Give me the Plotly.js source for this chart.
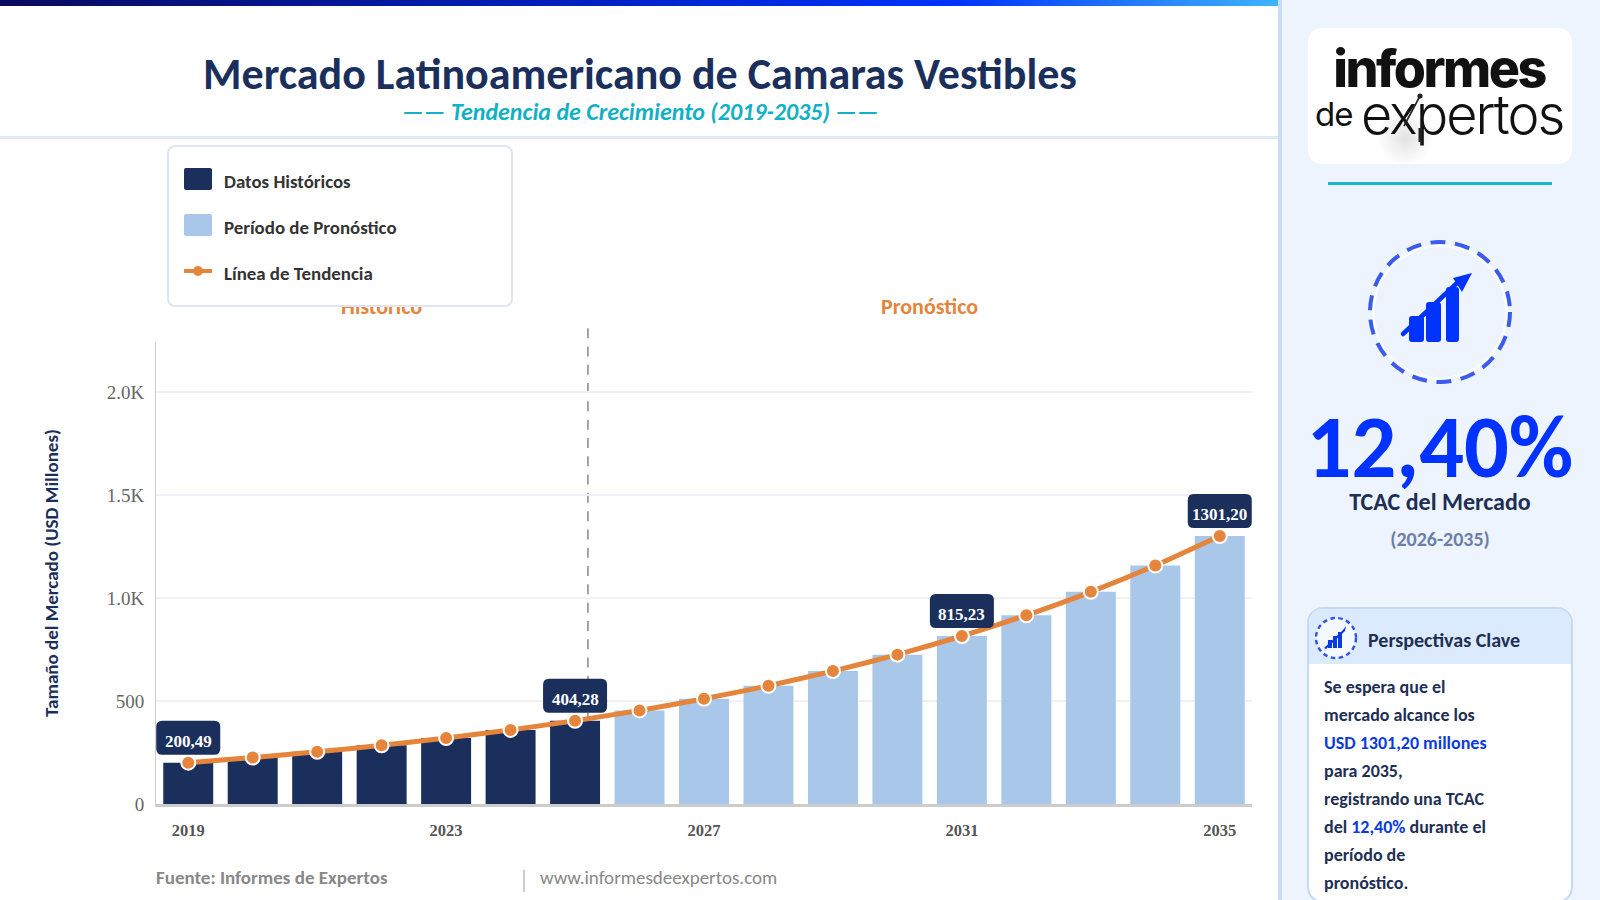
<!DOCTYPE html>
<html><head><meta charset="utf-8">
<script src="https://cdn.plot.ly/plotly-3.0.1.min.js"></script>
<style>
html,body{margin:0;padding:0;width:1600px;height:900px;overflow:hidden;background:#fff;font-family:Carlito,Calibri,Lato,sans-serif}
#topbar{position:absolute;left:0;top:0;width:1278px;height:6px;background:linear-gradient(90deg,#0a0a5e 0%,#0020c0 45%,#0033ff 75%,#3fb4ff 100%)}
#hdiv{position:absolute;left:0;top:136px;width:1278px;height:3px;background:#e3eaf3}
#chart{position:absolute;left:0;top:0;width:1278px;height:900px}
#legendbox{position:absolute;left:167px;top:145px;width:346px;height:162px;box-sizing:border-box;background:#fff;border:2px solid #dfe5f1;border-radius:8px;font-size:18.9px;font-weight:600;color:#333;z-index:3}
.li{position:absolute;left:15px;height:24px;line-height:24px;display:flex;align-items:center}
.sw{display:inline-block;width:28px;height:22px;border-radius:2px;margin-right:12px;position:relative;top:-2px}
.ln{display:inline-block;width:28px;height:4px;background:#e5843b;margin-right:12px;position:relative;top:-2px}
.ln:after{content:"";position:absolute;left:9px;top:-3px;width:10px;height:10px;border-radius:50%;background:#e5843b}
.tx{position:relative;top:1px}
#foot1{position:absolute;left:156px;top:866px;font-size:19px;font-weight:700;color:#888}
#footd{position:absolute;left:523px;top:870px;width:2px;height:22px;background:#ccc}
#foot2{position:absolute;left:540px;top:866px;font-size:19px;color:#888}
#side{position:absolute;left:1278px;top:0;width:322px;height:900px;box-sizing:border-box;background:#eef4fe;border-left:4px solid #c8dcf5;overflow:hidden}
#logo{position:absolute;left:26px;top:28px;width:264px;height:136px;background:#fff;border-radius:14px;color:#111;overflow:hidden}
#teal{position:absolute;left:46px;top:182px;width:224px;height:3px;background:#18b4c8}
.abs{position:absolute;left:0;width:316px;text-align:center}
#card{position:absolute;left:25px;top:607px;width:266px;height:296px;box-sizing:border-box;border:2px solid #c7d9f0;border-radius:16px;background:#fff;overflow:hidden}
#cardh{position:absolute;left:0;top:0;right:0;height:55px;background:#dbeafd}
#cardt{position:absolute;left:59px;top:19px;line-height:24px;font-size:20px;font-weight:600;color:#1e2f55}
.bl{position:absolute;left:15px;font-size:18px;line-height:28px;font-weight:700;color:#1e2f55;white-space:nowrap}
.bl b{color:#0a3be0}
</style></head><body>
<div id="chart"></div>
<div id="topbar"></div><div id="hdiv"></div>
<div id="legendbox">
 <div class="li" style="top:22px"><span class="sw" style="background:#1b2f5c"></span><span class="tx">Datos Históricos</span></div>
 <div class="li" style="top:68px"><span class="sw" style="background:#a9c7e9"></span><span class="tx">Período de Pronóstico</span></div>
 <div class="li" style="top:114px"><span class="ln"></span><span class="tx">Línea de Tendencia</span></div>
</div>
<div id="foot1">Fuente: Informes de Expertos</div><div id="footd"></div><div id="foot2">www.informesdeexpertos.com</div>
<div id="side">
 <div id="logo">
  <div style="position:absolute;left:65px;top:85px;width:64px;height:50px;border-radius:50%;background:radial-gradient(circle,rgba(0,0,0,.11),rgba(0,0,0,0) 70%)"></div>
  <div style="position:absolute;left:0;width:262px;top:19px;text-align:center;font:800 52px/44px Inter,sans-serif;letter-spacing:-2.5px">informes</div>
  <div style="position:absolute;left:7px;top:68px;font:400 33px/36px Inter,sans-serif;letter-spacing:-1px">de</div>
  <div style="position:absolute;left:53px;top:62px;font:300 54px/50px Inter,sans-serif;letter-spacing:-2px">expertos</div>
  <svg style="position:absolute;left:0;top:0" width="264" height="135" viewBox="0 0 264 135"><path d="M112 68 L96 98" stroke="#222" stroke-width="1.6" fill="none"/><circle cx="112" cy="68" r="2.6" fill="#222"/><rect x="110.5" y="100" width="3.6" height="14" fill="#222"/></svg>
 </div>
 <div id="teal"></div>
 <svg style="position:absolute;left:83px;top:237px" width="150" height="150" viewBox="0 0 150 150">
  <circle cx="75" cy="75" r="66.5" fill="none" stroke="#f8fbff" stroke-width="3"/>
  <circle cx="75" cy="75" r="70" fill="none" stroke="#3b5bea" stroke-width="4" stroke-dasharray="15 9.6"/>
  <g fill="#0033ff"><rect x="44" y="79" width="15" height="26" rx="3"/><rect x="61" y="65" width="15" height="40" rx="3"/><rect x="81" y="50" width="13" height="55" rx="3"/>
  <path d="M38 97 L92 46" stroke="#0033ff" stroke-width="4.5" stroke-linecap="round" fill="none"/><path d="M107 36 L88 41 L97 55Z"/></g>
 </svg>
 <div class="abs" style="top:412px;font-size:88.5px;line-height:70px;font-weight:700;color:#0033ff">12,40%</div>
 <div class="abs" style="top:488px;font-size:24px;line-height:28px;font-weight:600;color:#1e2f55">TCAC del Mercado</div>
 <div class="abs" style="top:527px;font-size:20px;line-height:24px;font-weight:700;color:#6b7fa8">(2026-2035)</div>
 <div id="card">
  <div id="cardh"></div>
  <svg style="position:absolute;left:5px;top:7px" width="44" height="44" viewBox="0 0 44 44">
   <circle cx="22" cy="22" r="20" fill="#f4f8ff" stroke="#2f52e6" stroke-width="2.4" stroke-dasharray="4.5 3.5"/>
   <g fill="#0a3be0"><rect x="14" y="24" width="4" height="8"/><rect x="19" y="20" width="4" height="12"/><rect x="24" y="16" width="4" height="16"/><path d="M10 32 L29 14 L32 10 L31 15 L12 33Z"/></g>
  </svg>
  <div id="cardt">Perspectivas Clave</div>
  <div class="bl" style="top:63.5px">Se espera que el</div>
  <div class="bl" style="top:91.5px">mercado alcance los</div>
  <div class="bl" style="top:119.5px"><b>USD 1301,20 millones</b></div>
  <div class="bl" style="top:147.5px">para 2035,</div>
  <div class="bl" style="top:175.5px">registrando una TCAC</div>
  <div class="bl" style="top:203.5px">del <b>12,40%</b> durante el</div>
  <div class="bl" style="top:231.5px">período de</div>
  <div class="bl" style="top:259.5px">pronóstico.</div>
 </div>
</div>
<script>
const histYears=[2019,2020,2021,2022,2023,2024,2025];
const histValues=[200.49,225.4,253.3,284.7,320,359.7,404.28];
const foreYears=[2026,2027,2028,2029,2030,2031,2032,2033,2034,2035];
const foreValues=[454.4,510.8,574,645.2,725.2,815.23,916.3,1030,1157.7,1301.2];
const tickYears=[2019,2023,2027,2031,2035];
const yTicks=[0,500,1000,1500,2000];
const yTickText=['0','500','1.0K','1.5K','2.0K'];
const labelYears=[2019,2025,2031,2035];
const labelTexts=['200,49','404,28','815,23','1301,20'];
const sectionNames=['Histórico','Pronóstico'];
const sectionCentres=[2022,2030.5];
const splitYear=2025.2;
const allYears=histYears.concat(foreYears), allValues=histValues.concat(foreValues);
const valOf=y=>allValues[allYears.indexOf(y)];
const NAVY='#1b2f5c',ORANGE='#e5843b',SANS='Carlito,Calibri,Lato,sans-serif',SERIF='"Liberation Serif",serif';
function rr(x0,x1,y0,y1,r){return `M${x0+r},${y0}L${x1-r},${y0}Q${x1},${y0} ${x1},${y0+r}L${x1},${y1-r}Q${x1},${y1} ${x1-r},${y1}L${x0+r},${y1}Q${x0},${y1} ${x0},${y1-r}L${x0},${y0+r}Q${x0},${y0} ${x0+r},${y0}Z`}
const shapes=[{type:'line',xref:'x',yref:'paper',x0:splitYear,x1:splitYear,y0:1.03,y1:0,layer:'below',line:{color:'#888',width:1.5,dash:'10px 8.3px'}}];
const annos=[];
labelYears.forEach((yr,i)=>{
 shapes.push({type:'path',xref:'x',yref:'y',xsizemode:'pixel',ysizemode:'pixel',xanchor:yr,yanchor:valOf(yr),path:rr(-32,32,8,42,6),fillcolor:NAVY,line:{width:0},layer:'above'});
 annos.push({x:yr,y:valOf(yr),xref:'x',yref:'y',text:'<b>'+labelTexts[i]+'</b>',showarrow:false,yanchor:'bottom',yshift:10,font:{family:SERIF,size:17,color:'#fff'}});
});
sectionNames.forEach((t,i)=>annos.push({x:sectionCentres[i],xref:'x',yref:'paper',y:(804-306)/462,yanchor:'middle',text:'<b>'+t+'</b>',showarrow:false,font:{family:SANS,size:22,color:ORANGE}}));
annos.push({xref:'paper',yref:'paper',x:(640-156)/1096,y:(804-111)/462,yanchor:'middle',showarrow:false,text:'<b><i>—— Tendencia de Crecimiento (2019-2035) ——</i></b>',font:{family:SANS,size:24,color:'#12b0c4'}});
const traces=[
 {type:'bar',name:'Datos Históricos',x:histYears,y:histValues,marker:{color:NAVY},width:0.775},
 {type:'bar',name:'Período de Pronóstico',x:foreYears,y:foreValues,marker:{color:'#a9c7e9'},width:0.775},
 {type:'scatter',mode:'lines+markers',name:'Línea de Tendencia',x:allYears,y:allValues,line:{color:ORANGE,width:5,shape:'spline',smoothing:0.5},marker:{color:ORANGE,size:14,line:{color:'#fff',width:2}},cliponaxis:false}
];
const layout={
 width:1278,height:900,margin:{l:156,r:26,t:342,b:96},paper_bgcolor:'rgba(0,0,0,0)',plot_bgcolor:'rgba(0,0,0,0)',showlegend:false,barmode:'overlay',
 title:{text:'<b>Mercado Latinoamericano de Camaras Vestibles</b>',x:640/1278,xanchor:'center',xref:'container',y:1-74/900,yref:'container',yanchor:'middle',font:{family:SANS,size:44,color:NAVY}},
 xaxis:{type:'linear',range:[2018.5,2035.5],tickvals:tickYears,ticktext:tickYears.map(String),showgrid:false,zeroline:false,ticks:'',ticklabelstandoff:9,tickfont:{family:SERIF,size:16.5,color:'#555',weight:'bold'},showline:true,linecolor:'#ccc',linewidth:3,automargin:false},
 yaxis:{range:[0,2243],tickvals:yTicks,ticktext:yTickText,showgrid:true,gridcolor:'#eef1f6',gridwidth:2,zeroline:false,ticklabelstandoff:7,tickfont:{family:SERIF,size:19,color:'#666'},showline:true,linecolor:'#ccc',linewidth:1,ticks:'',
  title:{text:'<b>Tamaño del Mercado (USD Millones)</b>',standoff:43,font:{family:SANS,size:19,color:NAVY}},automargin:true},
 shapes:shapes,annotations:annos
};
Plotly.newPlot('chart',traces,layout,{displayModeBar:false,staticPlot:true});
</script>
</body></html>
